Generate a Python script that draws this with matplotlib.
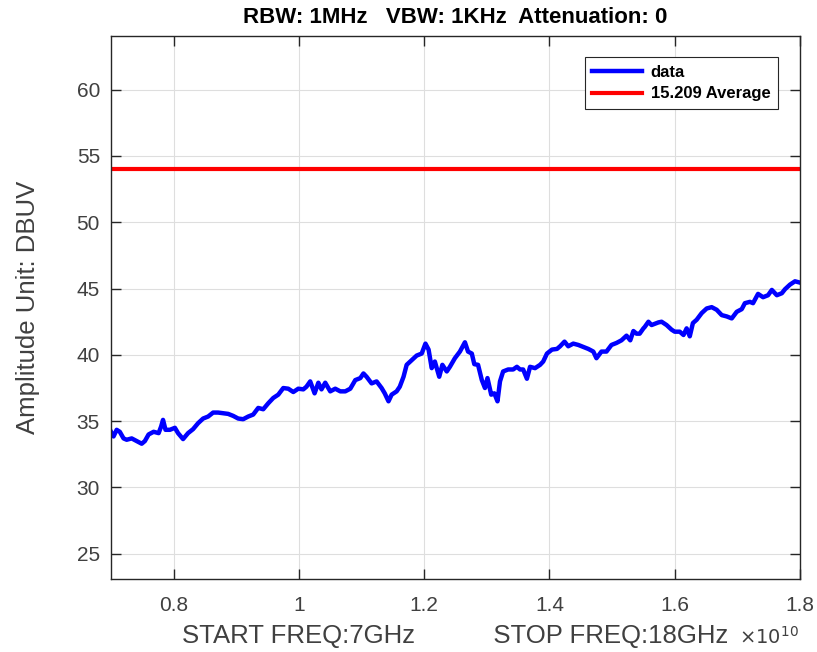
import matplotlib
matplotlib.use('Agg')
import matplotlib.pyplot as plt
from matplotlib.ticker import FuncFormatter
import numpy as np

plt.rcParams['font.family'] = ['Liberation Sans', 'DejaVu Sans']

# frequency (GHz) and amplitude (dBuV)
freq_ghz = [7.00, 7.04, 7.09, 7.14, 7.20, 7.25, 7.33, 7.41, 7.49, 7.54,
            7.60, 7.68, 7.76, 7.80, 7.83, 7.87, 7.94, 8.02, 8.07, 8.15,
            8.23, 8.31, 8.39, 8.47, 8.55, 8.63, 8.71, 8.79, 8.87, 8.95,
            9.03, 9.11, 9.19, 9.27, 9.35, 9.43, 9.51, 9.59, 9.67, 9.75,
            9.83, 9.91, 9.99, 10.07, 10.12, 10.18, 10.25, 10.31, 10.36, 10.42,
            10.50, 10.58, 10.66, 10.74, 10.82, 10.90, 10.98, 11.03, 11.08, 11.16,
            11.24, 11.32, 11.37, 11.43, 11.48, 11.56, 11.61, 11.67, 11.72, 11.80,
            11.88, 11.96, 12.02, 12.07, 12.12, 12.17, 12.24, 12.29, 12.36, 12.41,
            12.49, 12.57, 12.65, 12.70, 12.76, 12.80, 12.86, 12.92, 12.97, 13.01,
            13.07, 13.12, 13.17, 13.21, 13.26, 13.34, 13.42, 13.48, 13.53, 13.58,
            13.64, 13.69, 13.77, 13.85, 13.90, 13.96, 14.04, 14.12, 14.17, 14.24,
            14.30, 14.38, 14.46, 14.54, 14.62, 14.70, 14.75, 14.83, 14.91, 14.99,
            15.07, 15.15, 15.23, 15.29, 15.34, 15.39, 15.44, 15.50, 15.52, 15.58,
            15.63, 15.74, 15.79, 15.87, 15.95, 16.00, 16.08, 16.14, 16.19, 16.24,
            16.29, 16.35, 16.43, 16.51, 16.59, 16.67, 16.75, 16.83, 16.91, 16.99,
            17.07, 17.12, 17.20, 17.25, 17.33, 17.41, 17.49, 17.55, 17.63, 17.71,
            17.76, 17.84, 17.92, 18.00]
amp_dbuv = [34.2, 33.85, 34.35, 34.2, 33.7, 33.6, 33.7, 33.5, 33.3, 33.5,
            34.0, 34.2, 34.1, 34.6, 35.1, 34.35, 34.35, 34.5, 34.1, 33.65,
            34.1, 34.4, 34.85, 35.2, 35.35, 35.65, 35.65, 35.6, 35.55, 35.4,
            35.2, 35.15, 35.35, 35.5, 36.0, 35.9, 36.35, 36.75, 37.0, 37.5,
            37.45, 37.2, 37.45, 37.4, 37.6, 38.0, 37.1, 37.9, 37.4, 37.9,
            37.25, 37.45, 37.25, 37.25, 37.45, 38.1, 38.25, 38.6, 38.35, 37.85,
            38.0, 37.5, 37.1, 36.5, 37.0, 37.25, 37.6, 38.35, 39.25, 39.6,
            39.95, 40.1, 40.85, 40.4, 39.0, 39.5, 38.35, 39.25, 38.75, 39.1,
            39.75, 40.25, 40.95, 40.25, 40.1, 39.3, 39.25, 38.1, 37.5, 38.25,
            37.0, 37.1, 36.5, 38.0, 38.75, 38.9, 38.9, 39.1, 38.9, 38.9,
            38.2, 39.1, 39.0, 39.25, 39.5, 40.1, 40.4, 40.45, 40.65, 41.0,
            40.65, 40.85, 40.75, 40.6, 40.45, 40.25, 39.75, 40.25, 40.25, 40.75,
            40.9, 41.1, 41.45, 41.1, 41.8, 41.6, 41.6, 42.0, 42.1, 42.5,
            42.25, 42.45, 42.5, 42.25, 41.9, 41.75, 41.75, 41.5, 42.0, 41.4,
            42.4, 42.65, 43.15, 43.5, 43.6, 43.4, 43.0, 42.9, 42.75, 43.25,
            43.45, 43.9, 44.0, 43.9, 44.6, 44.35, 44.5, 44.9, 44.5, 44.65,
            44.95, 45.3, 45.55, 45.45]
limit_dbuv = 54
x_ticks = [0.8e10, 1.0e10, 1.2e10, 1.4e10, 1.6e10, 1.8e10]
y_ticks = [25, 30, 35, 40, 45, 50, 55, 60]

freq_hz = np.array(freq_ghz) * 1e9

fig = plt.figure(figsize=(8.17, 6.52), dpi=100)
ax = fig.add_axes([0.1359, 0.1120, 0.8433, 0.8328])

ax.plot(freq_hz, amp_dbuv, color='#0000ff', linewidth=3.2, label='data')
ax.axhline(limit_dbuv, color='#ff0000', linewidth=3.0, label='15.209 Average')

ax.set_xlim(0.7e10, 1.8e10)
ax.set_ylim(23.1, 64.05)
ax.set_xticks(x_ticks)
ax.set_yticks(y_ticks)
ax.xaxis.set_major_formatter(FuncFormatter(lambda v, p: '%g' % (v / 1e10)))

ax.grid(True, color='#dedede', linewidth=0.8)
ax.set_axisbelow(True)
ax.tick_params(direction='in', length=7, width=1, top=True, right=True,
               labelsize=15, colors='#262626', labelcolor='#404040')
ax.tick_params(axis='y', pad=8)
ax.tick_params(axis='x', pad=12)
for s in ax.spines.values():
    s.set_color('#262626')
    s.set_linewidth(1)

ax.set_title('RBW: 1MHz   VBW: 1KHz  Attenuation: 0', fontsize=16,
             fontweight='bold', color='black', pad=9)
ax.set_xlabel('START FREQ:7GHz           STOP FREQ:18GHz', fontsize=18.5,
              color='#404040', labelpad=7)
ax.set_ylabel('Amplitude Unit: DBUV', fontsize=18.5, color='#404040', labelpad=26)
fig.text(0.905, 0.012, r'$\times10^{10}$', fontsize=14, color='#404040')

leg = ax.legend(loc='upper right', bbox_to_anchor=(0.968, 0.961), borderaxespad=0,
                fancybox=False, edgecolor='#262626', framealpha=1,
                prop={'weight': 'bold', 'size': 12}, handlelength=3.0,
                borderpad=0.45, labelspacing=0.4, handletextpad=0.5)
leg.get_frame().set_linewidth(0.8)

plt.savefig('out.png', dpi=100)
